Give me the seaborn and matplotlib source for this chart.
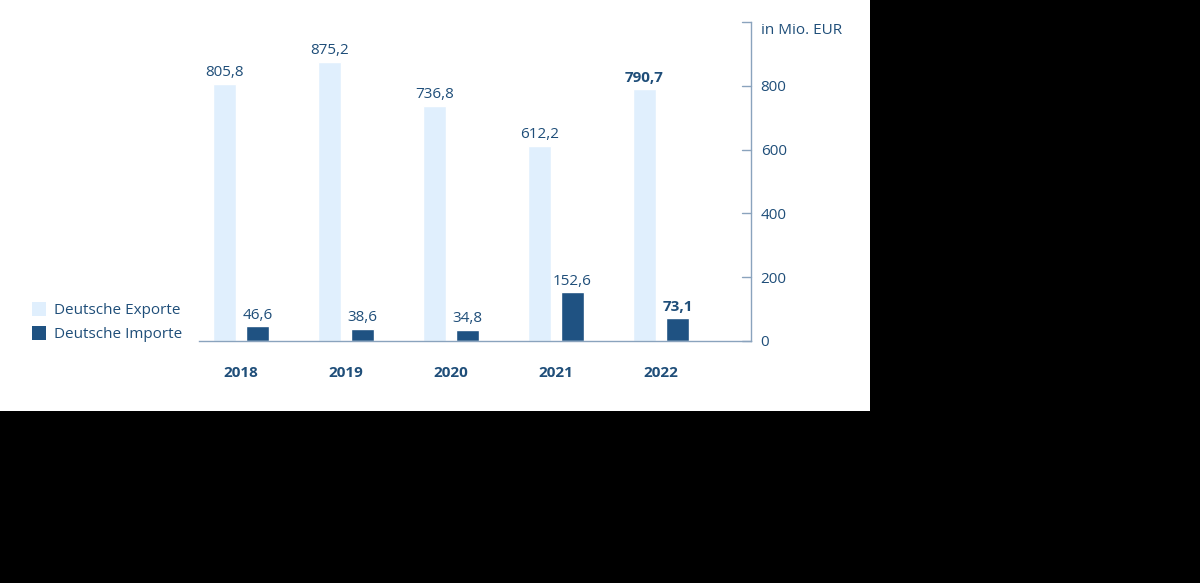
import matplotlib
matplotlib.use("Agg")
import matplotlib.pyplot as plt
import matplotlib.transforms as mtransforms
import seaborn as sns
import pandas as pd
from matplotlib.patches import Rectangle

years = ["2018", "2019", "2020", "2021", "2022"]
exports = [805.8, 875.2, 736.8, 612.2, 790.7]
imports = [46.6, 38.6, 34.8, 152.6, 73.1]
series_names = ["Deutsche Exporte", "Deutsche Importe"]
y_ticks = [0, 200, 400, 600, 800, 1000]
y_tick_labels = ["0", "200", "400", "600", "800", "in Mio. EUR"]

sns.set_theme(style="white")
plt.rcParams["font.family"] = ["Open Sans", "DejaVu Sans"]

C_EXP = "#e0effd"
C_IMP = "#1f5282"
C_TXT = "#1f4e79"
C_AX = "#8aa3bd"

df = pd.DataFrame({
    "year": years * 2,
    "value": exports + imports,
    "series": [series_names[0]] * 5 + [series_names[1]] * 5,
})

W, H = 1200, 583
fig = plt.figure(figsize=(W / 100, H / 100), dpi=100, facecolor="black")
fig.patches.append(Rectangle((0, 1 - 411 / H), 870 / W, 411 / H,
                             transform=fig.transFigure, facecolor="white",
                             edgecolor="none", zorder=-10))

ax = fig.add_axes([199 / W, 1 - 341 / H, (751 - 199) / W, (341 - 22) / H])
ax.set_zorder(1)
ax.set_facecolor("none")

sns.barplot(data=df, x="year", y="value", hue="series",
            palette=[C_EXP, C_IMP], width=0.629, gap=0.30,
            dodge=True, ax=ax, legend=False, saturation=1)

ax.set_xlim(-0.4, 4.857)
ax.set_ylim(0, 1000)

# value labels
for c_idx, cont in enumerate(ax.containers):
    vals = exports if c_idx == 0 else imports
    for i, (bar, v) in enumerate(zip(cont, vals)):
        txt = f"{v:.1f}".replace(".", ",")
        ax.annotate(txt, (bar.get_x() + bar.get_width() / 2, bar.get_height()),
                    xytext=(0, 2.5), textcoords="offset points",
                    ha="center", va="bottom", fontsize=11, color=C_TXT,
                    fontweight="bold" if i == 4 else "normal")

ax.yaxis.tick_right()
ax.set_yticks(y_ticks)
ax.set_yticklabels(y_tick_labels)
ax.tick_params(axis="y", direction="out", length=0, pad=7,
               labelsize=11, labelcolor=C_TXT)
top_lab = ax.get_yticklabels()[-1]
top_lab.set_transform(top_lab.get_transform() +
                      mtransforms.ScaledTranslation(0, -6 / 100, fig.dpi_scale_trans))
# ticks on left side of right spine
for t in y_ticks:
    ax.plot([4.857 - 9 / 105, 4.857], [t, t], color=C_AX, lw=1,
            clip_on=False, zorder=3)

ax.tick_params(axis="x", length=0, pad=18, labelsize=11, labelcolor=C_TXT)
for lab in ax.get_xticklabels():
    lab.set_fontweight("bold")

for s in ["top", "left"]:
    ax.spines[s].set_visible(False)
ax.spines["right"].set_color(C_AX)
ax.spines["bottom"].set_color(C_AX)
ax.spines["right"].set_linewidth(1)
ax.spines["bottom"].set_linewidth(1)
ax.set_xlabel("")
ax.set_ylabel("")

# legend
for k, (name, col) in enumerate(zip(series_names, [C_EXP, C_IMP])):
    yy = 1 - (309 + 24 * k) / H
    fig.patches.append(Rectangle((32 / W, yy - 7 / H), 14 / W, 14 / H,
                                 transform=fig.transFigure, facecolor=col,
                                 edgecolor="none", zorder=2))
    fig.text(54 / W, yy - 2 / H, name, fontsize=11, color=C_TXT,
             va="center", ha="left")

fig.savefig("out.png", dpi=100, facecolor="black")
